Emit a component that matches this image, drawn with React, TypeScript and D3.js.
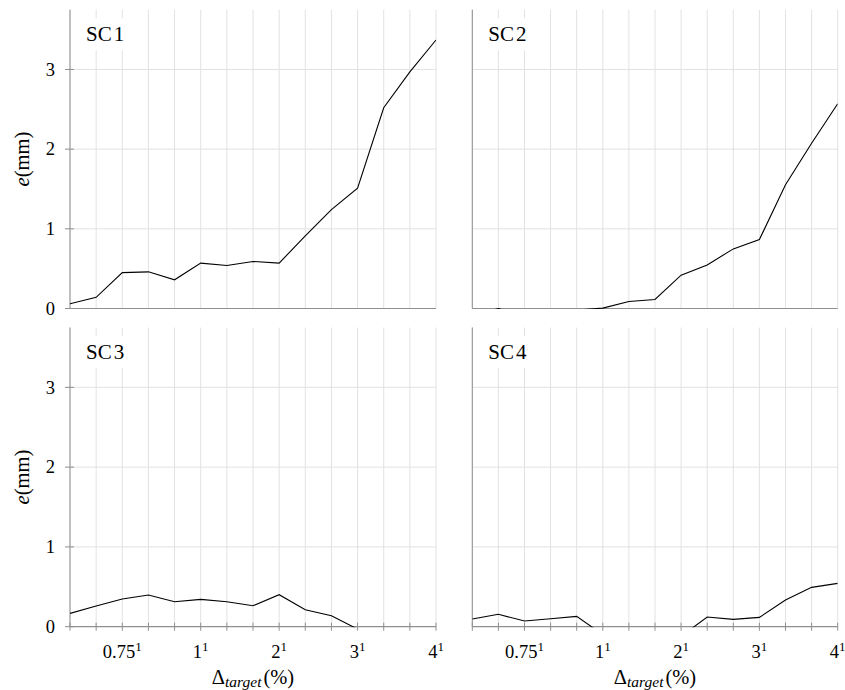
import React from "react";
import * as d3 from "d3";

// x categories (indices along the Δ_target axis) and tick labels
const xIndex = [0, 1, 2, 3, 4, 5, 6, 7, 8, 9, 10, 11, 12, 13, 14];
const xTickIdx = [2, 5, 8, 11, 14];
const xTickLabels = ["0.75", "1", "2", "3", "4"];
const yTicks = [0, 1, 2, 3];
const yMax = 3.75;

// series values e (mm)
const sc1 = [0.06, 0.14, 0.45, 0.46, 0.36, 0.57, 0.54, 0.59, 0.57, 0.91, 1.24, 1.51, 2.52, 2.97, 3.37];
const sc2 = [-0.1, 0.0, -0.1, -0.1, -0.02, 0.005, 0.088, 0.113, 0.418, 0.547, 0.748, 0.865, 1.554, 2.073, 2.57];
const sc3 = [0.167, 0.259, 0.347, 0.397, 0.313, 0.343, 0.313, 0.263, 0.401, 0.213, 0.138, -0.03, -0.1, -0.1, -0.1];
const sc4 = [0.096, 0.155, 0.071, 0.1, 0.13, -0.1, -0.1, -0.1, -0.12, 0.121, 0.092, 0.117, 0.334, 0.493, 0.543];

const panelNames = ["1", "2", "3", "4"];
const panelData = [sc1, sc2, sc3, sc4];

const W = 845;
const H = 690;
const colX: [number, number][] = [
  [70, 436],
  [472.3, 837.7],
];
const rowY: [number, number][] = [
  [9.7, 308.5],
  [327.5, 626.7],
];

const FONT = "'Liberation Serif', 'DejaVu Serif', serif";
const AXIS = "#8f8f8f";
const GRID = "#e2e2e2";

function Panel({ idx }: { idx: number }) {
  const col = idx % 2;
  const row = Math.floor(idx / 2);
  const [x0, x1] = colX[col];
  const [yt, yb] = rowY[row];
  const x = d3.scaleLinear().domain([0, 14]).range([x0, x1]);
  const y = d3.scaleLinear().domain([0, yMax]).range([yb, yt]);
  const data = panelData[idx];
  const line = d3
    .line<number>()
    .x((_, i) => x(xIndex[i]))
    .y((d) => y(d));
  const clipId = `clip-${idx}`;
  const isLeft = col === 0;
  const isBottom = row === 1;
  return (
    <g>
      <defs>
        <clipPath id={clipId}>
          <rect x={x0} y={yt} width={x1 - x0} height={yb - yt + 0.6} />
        </clipPath>
      </defs>
      {xIndex.map((i) => (
        <line key={"vx" + i} x1={x(i)} x2={x(i)} y1={yt} y2={yb} stroke={GRID} strokeWidth={1} />
      ))}
      {yTicks
        .filter((t) => t > 0)
        .map((t) => (
          <line key={"hy" + t} x1={x0} x2={x1} y1={y(t)} y2={y(t)} stroke={GRID} strokeWidth={1} />
        ))}
      {/* label background */}
      <rect x={x0 + 11} y={yt + 8.5} width={51} height={32} fill="#fff" />
      <text x={x0 + 16} y={yt + 31} fontFamily={FONT} fontSize={21} fill="#000">
        SC
        <tspan dx={2}>{panelNames[idx]}</tspan>
      </text>
      {/* axes */}
      <line x1={x0} x2={x0} y1={yt} y2={yb} stroke={AXIS} strokeWidth={1} />
      <line x1={x0} x2={x1} y1={yb} y2={yb} stroke={AXIS} strokeWidth={1.2} />
      {isLeft &&
        yTicks.map((t) => (
          <g key={"yt" + t}>
            <line x1={x0 - 5} x2={x0 + 4} y1={y(t)} y2={y(t)} stroke={AXIS} strokeWidth={1} />
            <text
              x={x0 - 15}
              y={y(t)}
              dy="0.34em"
              textAnchor="end"
              fontFamily={FONT}
              fontSize={18.5}
              fill="#000"
            >
              {t}
            </text>
          </g>
        ))}
      {isBottom &&
        xIndex.map((i) => (
          <line key={"xt" + i} x1={x(i)} x2={x(i)} y1={yb - 4} y2={yb + 4} stroke={AXIS} strokeWidth={1} />
        ))}
      {isBottom &&
        xTickIdx.map((i, k) => (
          <text key={"xl" + i} x={x(i)} y={yb + 31.5} textAnchor="middle" fontFamily={FONT} fontSize={18.5} fill="#000">
            {xTickLabels[k]}
            <tspan fontSize={13} dy={-7}>
              1
            </tspan>
          </text>
        ))}
      {isBottom && (
        <text x={(x0 + x1) / 2} y={684} textAnchor="middle" fontFamily={FONT} fontSize={20.5} fill="#000">
          Δ
          <tspan fontStyle="italic" fontSize={15.5} dy={3}>
            target
          </tspan>
          <tspan dy={-3} dx={2} fontSize={20.5}>
            (%)
          </tspan>
        </text>
      )}
      {isLeft && (
        <text
          transform={`translate(29,${(yt + yb) / 2}) rotate(-90)`}
          textAnchor="middle"
          fontFamily={FONT}
          fontSize={20.5}
          fill="#000"
        >
          <tspan fontStyle="italic">e</tspan>(mm)
        </text>
      )}
      <path d={line(data) || ""} fill="none" stroke="#000" strokeWidth={1.1} clipPath={`url(#${clipId})`} />
    </g>
  );
}

export default function App() {
  return (
    <svg
      width={W}
      height={H}
      viewBox={`0 0 ${W} ${H}`}
      style={{ position: "absolute", left: 0, top: 0, display: "block", background: "#fff" }}
    >
      <rect x={0} y={0} width={W} height={H} fill="#fff" />
      {[0, 1, 2, 3].map((i) => (
        <Panel key={i} idx={i} />
      ))}
    </svg>
  );
}
